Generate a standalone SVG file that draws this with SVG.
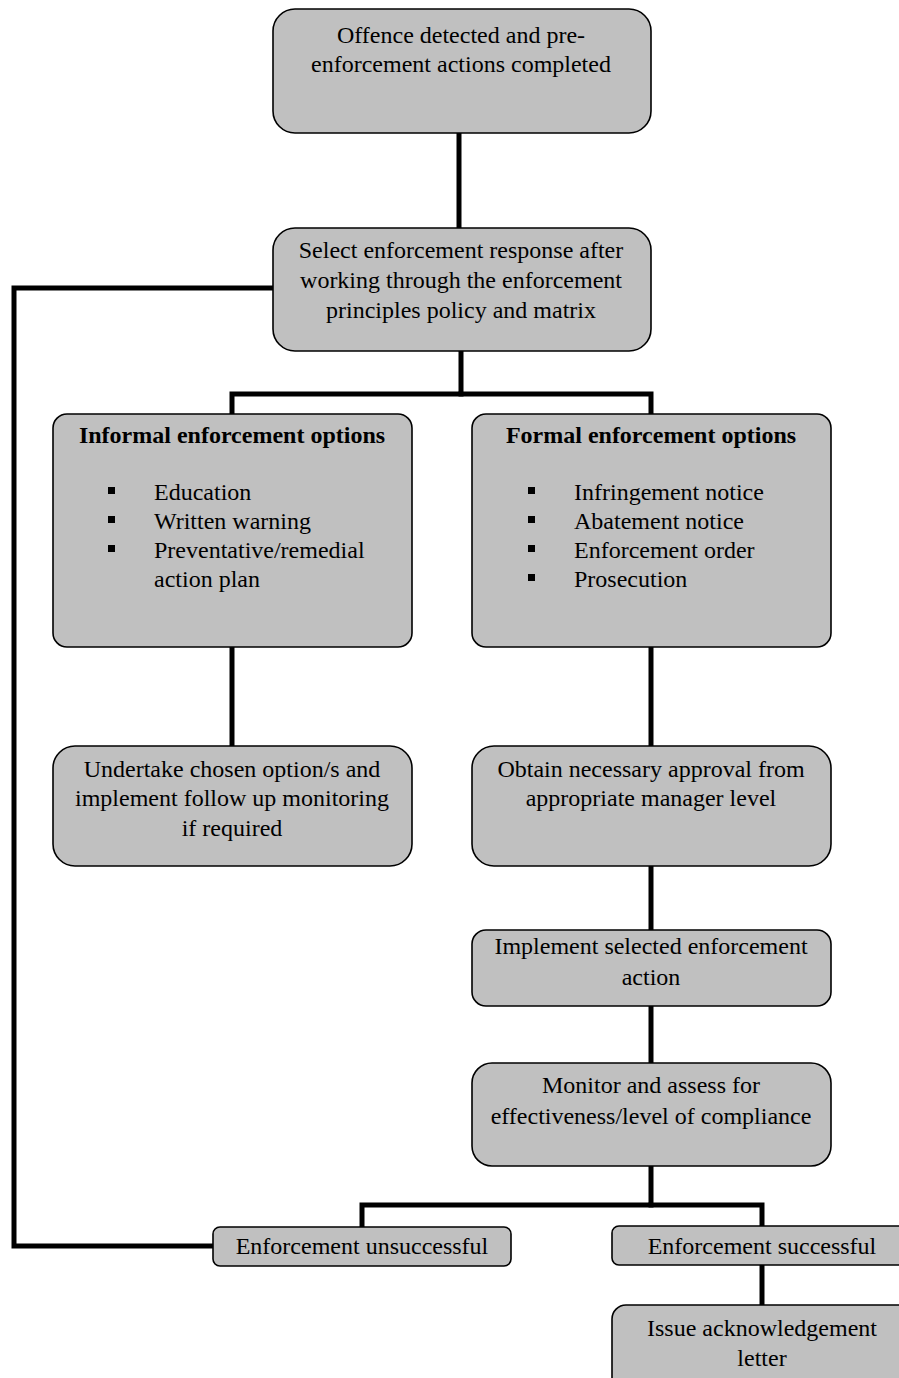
<svg xmlns="http://www.w3.org/2000/svg" width="899" height="1378" viewBox="0 0 899 1378">
<style>
.box{fill:#c0c0c0;stroke:#000;stroke-width:1.6}
.t{font-family:"Liberation Serif","Times New Roman",serif;font-size:24px;fill:#000;text-anchor:middle}
.l{font-family:"Liberation Serif","Times New Roman",serif;font-size:24px;fill:#000}
.b{font-weight:bold}
.c{fill:none;stroke:#000;stroke-width:5;stroke-linejoin:miter;stroke-linecap:square}
</style>
<rect width="899" height="1378" fill="#fff"/>
<g id="connectors">
<path class="c" d="M459 134 V229"/>
<path class="c" d="M273 288 H14 V1246 H213"/>
<path class="c" d="M461 352 V394 H232 V414"/>
<path class="c" d="M461 394 H651 V414"/>
<path class="c" d="M232 647 V746"/>
<path class="c" d="M651 647 V746"/>
<path class="c" d="M651 866 V930"/>
<path class="c" d="M651 1006 V1063"/>
<path class="c" d="M651 1166 V1205 H362 V1227"/>
<path class="c" d="M651 1205 H762 V1226"/>
<path class="c" d="M762 1265 V1305"/>
</g>
<g id="n1">
<rect class="box" x="273" y="9" width="378" height="124" rx="22"/>
<text class="t" x="461" y="43">Offence detected and pre-</text>
<text class="t" x="461" y="72">enforcement actions completed</text>
</g>
<g id="n2">
<rect class="box" x="273" y="228" width="378" height="123" rx="22"/>
<text class="t" x="461" y="258">Select enforcement response after</text>
<text class="t" x="461" y="288">working through the enforcement</text>
<text class="t" x="461" y="318">principles policy and matrix</text>
</g>
<g id="n3">
<rect class="box" x="53" y="414" width="359" height="233" rx="14"/>
<text class="t b" x="232" y="443">Informal enforcement options</text>
<rect x="108" y="487" width="7" height="7"/>
<rect x="108" y="516" width="7" height="7"/>
<rect x="108" y="545" width="7" height="7"/>
<text class="l" x="154" y="500">Education</text>
<text class="l" x="154" y="529">Written warning</text>
<text class="l" x="154" y="558">Preventative/remedial</text>
<text class="l" x="154" y="587">action plan</text>
</g>
<g id="n4">
<rect class="box" x="472" y="414" width="359" height="233" rx="14"/>
<text class="t b" x="651" y="443">Formal enforcement options</text>
<rect x="528" y="487" width="7" height="7"/>
<rect x="528" y="516" width="7" height="7"/>
<rect x="528" y="545" width="7" height="7"/>
<rect x="528" y="574" width="7" height="7"/>
<text class="l" x="574" y="500">Infringement notice</text>
<text class="l" x="574" y="529">Abatement notice</text>
<text class="l" x="574" y="558">Enforcement order</text>
<text class="l" x="574" y="587">Prosecution</text>
</g>
<g id="n5">
<rect class="box" x="53" y="746" width="359" height="120" rx="22"/>
<text class="t" x="232" y="777">Undertake chosen option/s and</text>
<text class="t" x="232" y="806">implement follow up monitoring</text>
<text class="t" x="232" y="836">if required</text>
</g>
<g id="n6">
<rect class="box" x="472" y="746" width="359" height="120" rx="22"/>
<text class="t" x="651" y="777">Obtain necessary approval from</text>
<text class="t" x="651" y="806">appropriate manager level</text>
</g>
<g id="n7">
<rect class="box" x="472" y="930" width="359" height="76" rx="14"/>
<text class="t" x="651" y="954">Implement selected enforcement</text>
<text class="t" x="651" y="985">action</text>
</g>
<g id="n8">
<rect class="box" x="472" y="1063" width="359" height="103" rx="20"/>
<text class="t" x="651" y="1093">Monitor and assess for</text>
<text class="t" x="651" y="1124">effectiveness/level of compliance</text>
</g>
<g id="n9">
<rect class="box" x="213" y="1227" width="298" height="39" rx="7"/>
<text class="t" x="362" y="1254">Enforcement unsuccessful</text>
</g>
<g id="n10">
<rect class="box" x="612" y="1226" width="300" height="39" rx="7"/>
<text class="t" x="762" y="1254">Enforcement successful</text>
</g>
<g id="n11">
<rect class="box" x="612" y="1305" width="300" height="100" rx="14"/>
<text class="t" x="762" y="1336">Issue acknowledgement</text>
<text class="t" x="762" y="1366">letter</text>
</g>
</svg>
